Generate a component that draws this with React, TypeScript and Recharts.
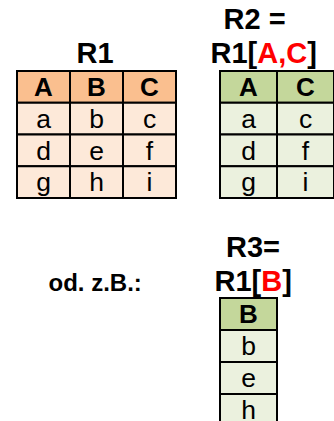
import React from "react";
import { BarChart, Bar, XAxis, YAxis, LabelList } from "recharts";

// ---- data ----
const r1Columns = ["A", "B", "C"];
const r1Rows = [
  ["a", "b", "c"],
  ["d", "e", "f"],
  ["g", "h", "i"],
];
const r2Columns = ["A", "C"];
const r2Rows = [
  ["a", "c"],
  ["d", "f"],
  ["g", "i"],
];
const r3Columns = ["B"];
const r3Rows = [["b"], ["e"], ["h"]];

const FONT = "'Liberation Sans', Arial, Helvetica, sans-serif";

const ORANGE_HEAD = "#FABF8F";
const ORANGE_BODY = "#FDE9D9";
const GREEN_HEAD = "#C4D79B";
const GREEN_BODY = "#EBF1DE";

function buildData(columns: string[], rows: string[][]) {
  return columns.map((c, ci) => {
    const o: Record<string, any> = { col: c, header: 1, t_header: c };
    rows.forEach((r, ri) => {
      o[`row${ri}`] = 1;
      o[`t_row${ri}`] = r[ci];
    });
    return o;
  });
}

const makeLabel = (bold: boolean, size: number) => (props: any) => {
  const vb = props.viewBox || {};
  const x = Number(props.x ?? vb.x);
  const y = Number(props.y ?? vb.y);
  const w = Number(props.width ?? vb.width);
  const h = Number(props.height ?? vb.height);
  const cx = x + w / 2;
  const cy = y + h / 2;
  return (
    <text
      x={cx}
      y={cy + 0.3465 * size}
      textAnchor="middle"
      fontFamily={FONT}
      fontSize={size}
      fontWeight={bold ? 700 : 400}
      fill="#000"
    >
      {props.value}
    </text>
  );
};

const headLabel = makeLabel(true, 26);
const bodyLabel = makeLabel(false, 26.5);

type TableProps = {
  columns: string[];
  rows: string[][];
  headFill: string;
  bodyFill: string;
  left: number;
  top: number;
  width: number;
  height: number;
};

function TableChart({ columns, rows, headFill, bodyFill, left, top, width, height }: TableProps) {
  const data = buildData(columns, rows);
  return (
    <div style={{ position: "absolute", left, top, width, height }}>
      <BarChart
        width={width}
        height={height}
        data={data}
        margin={{ top: 2, right: 2, bottom: 2, left: 2 }}
        barCategoryGap={0}
        barGap={0}
      >
        <XAxis dataKey="col" type="category" hide />
        <YAxis type="number" domain={[0, rows.length + 1]} reversed hide />
        <Bar
          dataKey="header"
          stackId="t"
          fill={headFill}
          stroke="#000"
          strokeWidth={2}
          isAnimationActive={false}
        >
          <LabelList dataKey="t_header" content={headLabel} />
        </Bar>
        {rows.map((_, ri) => (
          <Bar
            key={ri}
            dataKey={`row${ri}`}
            stackId="t"
            fill={bodyFill}
            stroke="#000"
            strokeWidth={2}
            isAnimationActive={false}
          >
            <LabelList dataKey={`t_row${ri}`} content={bodyLabel} />
          </Bar>
        ))}
      </BarChart>
    </div>
  );
}

const titleStyle = {
  fontFamily: FONT,
  fontWeight: 700,
  fontSize: 29,
  fill: "#000",
} as const;

export default function App() {
  return (
    <div
      style={{
        position: "absolute",
        left: 0,
        top: 0,
        width: 334,
        height: 421,
        overflow: "hidden",
        background: "#fff",
      }}
    >
      <TableChart
        columns={r1Columns}
        rows={r1Rows}
        headFill={ORANGE_HEAD}
        bodyFill={ORANGE_BODY}
        left={15}
        top={69}
        width={163}
        height={131}
      />
      <TableChart
        columns={r2Columns}
        rows={r2Rows}
        headFill={GREEN_HEAD}
        bodyFill={GREEN_BODY}
        left={218}
        top={69}
        width={118}
        height={131}
      />
      <TableChart
        columns={r3Columns}
        rows={r3Rows}
        headFill={GREEN_HEAD}
        bodyFill={GREEN_BODY}
        left={218}
        top={296}
        width={61}
        height={132}
      />
      <svg
        width={334}
        height={421}
        style={{ position: "absolute", left: 0, top: 0, pointerEvents: "none" }}
      >
        <text x={95} y={63} textAnchor="middle" {...titleStyle}>
          R1
        </text>
        <text x={223.5} y={29} {...titleStyle}>
          R2 =
        </text>
        <text x={210.5} y={63} {...titleStyle}>
          R1[<tspan fill="#FF0000">A,C</tspan>]
        </text>
        <text x={226} y={257} {...titleStyle}>
          R3=
        </text>
        <text x={214.5} y={291} {...titleStyle}>
          R1[<tspan fill="#FF0000">B</tspan>]
        </text>
        <text x={48.5} y={291} fontFamily={FONT} fontWeight={700} fontSize={24} fill="#000">
          od. z.B.:
        </text>
      </svg>
    </div>
  );
}
